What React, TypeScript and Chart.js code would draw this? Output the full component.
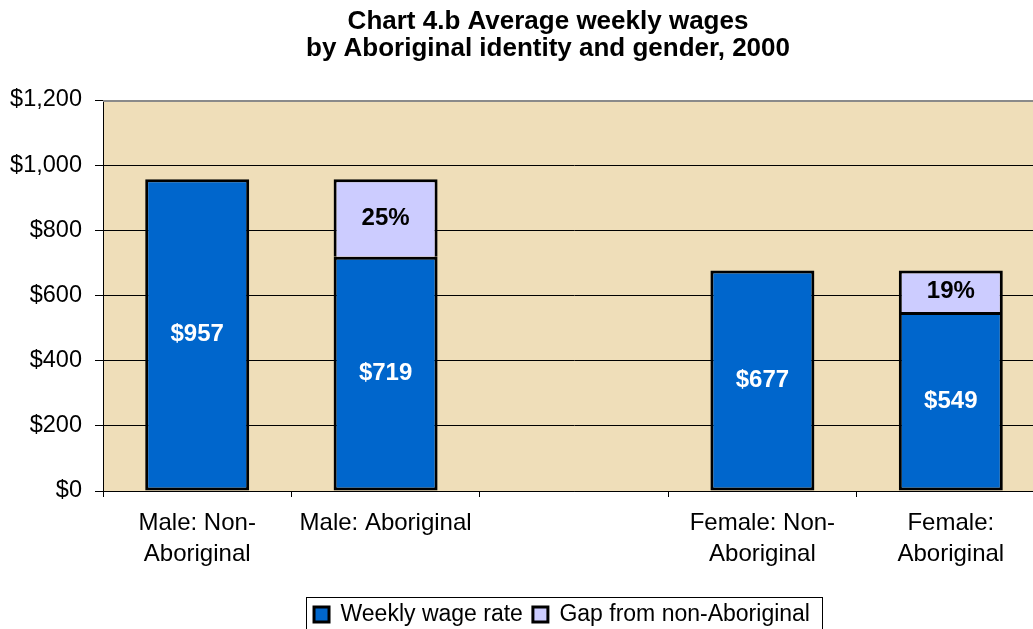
import React, { useEffect, useRef } from 'react';
import { Chart, registerables } from 'chart.js';

Chart.register(...registerables);

const titleLines = ['Chart 4.b Average weekly wages', 'by Aboriginal identity and gender, 2000'];
const categories: (string | string[])[] = [
  ['Male: Non-', 'Aboriginal'],
  'Male: Aboriginal',
  '',
  ['Female: Non-', 'Aboriginal'],
  ['Female:', 'Aboriginal'],
];
const wageValues = [957, 719, null, 677, 549];
const wageLabels = ['$957', '$719', '', '$677', '$549'];
const gapValues = [null, 238, null, null, 128];
const gapLabels = ['', '25%', '', '', '19%'];
const seriesNames = ['Weekly wage rate', 'Gap from non-Aboriginal'];
const yMin = 0;
const yMax = 1200;
const yStep = 200;

const FONT = "'Liberation Sans', Arial, Helvetica, sans-serif";

const plotBg = {
  id: 'plotBg',
  beforeDraw(chart: any) {
    const { ctx, chartArea: a } = chart;
    ctx.save();
    ctx.fillStyle = '#ffffff';
    ctx.fillRect(0, 0, chart.width, chart.height);
    ctx.fillStyle = '#EFDEB9';
    ctx.fillRect(a.left, a.top, a.right - a.left, a.bottom - a.top);
    ctx.restore();
  },
  afterDatasetsDraw(chart: any) {
    const { ctx, chartArea: a } = chart;
    ctx.save();
    ctx.strokeStyle = '#8a8a8a';
    ctx.lineWidth = 2;
    ctx.beginPath();
    ctx.moveTo(a.left, a.top + 1);
    ctx.lineTo(a.right - 1, a.top + 1);
    ctx.lineTo(a.right - 1, a.bottom);
    ctx.stroke();
    ctx.restore();
  },
};

const legendShift = {
  id: 'legendShift',
  afterLayout(chart: any) {
    const lg = chart.legend;
    if (!lg) return;
    lg.left -= 12;
    lg.right -= 12;
  },
};

const barLabels = {
  id: 'barLabels',
  afterDatasetsDraw(chart: any) {
    const { ctx } = chart;
    const sets = [
      { idx: 0, labels: wageLabels, color: '#ffffff' },
      { idx: 1, labels: gapLabels, color: '#000000' },
    ];
    ctx.save();
    ctx.font = `bold 24px ${FONT}`;
    ctx.textAlign = 'center';
    ctx.textBaseline = 'middle';
    for (const s of sets) {
      const meta = chart.getDatasetMeta(s.idx);
      meta.data.forEach((el: any, i: number) => {
        const txt = s.labels[i];
        if (!txt) return;
        const { x, y, base } = el.getProps(['x', 'y', 'base'], true);
        ctx.fillStyle = s.color;
        ctx.fillText(txt, x, (y + base) / 2);
      });
    }
    ctx.restore();
  },
};

const legendBorder = {
  id: 'legendBorder',
  afterDraw(chart: any) {
    const lg = chart.legend;
    if (!lg || !lg.legendHitBoxes || !lg.legendHitBoxes.length) return;
    const hb = lg.legendHitBoxes;
    let l = Infinity;
    let r = -Infinity;
    hb.forEach((h: any) => {
      l = Math.min(l, h.left);
      r = Math.max(r, h.left + h.width);
    });
    const cy = hb[0].top + hb[0].height / 2;
    const { ctx } = chart;
    ctx.save();
    ctx.strokeStyle = '#000000';
    ctx.lineWidth = 1;
    ctx.strokeRect(Math.round(l - 8) + 0.5, Math.round(cy - 18) + 0.5, Math.round(r - l + 20), 80);
    ctx.restore();
  },
};

export default function App() {
  const ref = useRef<HTMLCanvasElement | null>(null);

  useEffect(() => {
    if (!ref.current) return;
    Chart.defaults.font.family = FONT;
    Chart.defaults.color = '#000000';
    const chart = new Chart(ref.current, {
      type: 'bar',
      data: {
        labels: categories,
        datasets: [
          {
            label: seriesNames[0],
            data: wageValues,
            backgroundColor: '#0066CC',
            borderColor: '#000000',
            borderWidth: 3,
            borderSkipped: false,
            categoryPercentage: 1,
            barPercentage: 0.552,
          },
          {
            label: seriesNames[1],
            data: gapValues,
            backgroundColor: '#CCCCFF',
            borderColor: '#000000',
            borderWidth: 3,
            borderSkipped: 'bottom',
            categoryPercentage: 1,
            barPercentage: 0.552,
          },
        ],
      } as any,
      options: {
        responsive: false,
        animation: false,
        devicePixelRatio: 1,
        layout: { padding: { top: 0, left: 0, right: 0, bottom: 24 } },
        plugins: {
          title: {
            display: true,
            text: titleLines,
            color: '#000000',
            font: { size: 26, weight: 'bold', family: FONT, lineHeight: '27px' } as any,
            padding: { top: 8, bottom: 38 },
          },
          legend: {
            display: true,
            position: 'bottom',
            fullSize: false,
            labels: {
              boxWidth: 15,
              boxHeight: 15,
              padding: 10,
              color: '#000000',
              font: { size: 23, family: FONT },
            },
          },
          tooltip: { enabled: false },
        },
        scales: {
          x: {
            stacked: true,
            grid: {
              display: true,
              drawOnChartArea: false,
              drawTicks: true,
              tickLength: 6,
              tickColor: '#000000',
              color: '#000000',
            },
            border: { display: true, color: '#000000', width: 1 },
            ticks: {
              color: '#000000',
              padding: 11,
              maxRotation: 0,
              autoSkip: false,
              font: { size: 24, family: FONT, lineHeight: '31px' } as any,
            },
            afterFit(scale: any) {
              scale.height = 102;
            },
          },
          y: {
            stacked: true,
            min: yMin,
            max: yMax,
            grid: {
              color: (ctx: any) => (ctx.tick && ctx.tick.value === yMax ? 'rgba(0,0,0,0)' : '#000000'),
              tickColor: '#000000',
              lineWidth: 1,
              tickLength: 8,
              drawTicks: true,
            },
            border: { display: true, color: '#000000', width: 1 },
            ticks: {
              stepSize: yStep,
              padding: 13,
              color: '#000000',
              font: { size: 23.5, family: FONT },
              callback: (v: any) => '$' + Number(v).toLocaleString('en-US'),
            },
            afterFit(scale: any) {
              scale.width = 103;
            },
          },
          yPad: {
            type: 'linear',
            position: 'right',
            display: true,
            grid: { display: false, drawTicks: false },
            border: { display: false },
            ticks: { display: false },
            afterFit(scale: any) {
              scale.width = 51;
            },
          },
        },
      } as any,
      plugins: [plotBg, legendShift, barLabels, legendBorder],
    });
    return () => chart.destroy();
  }, []);

  return (
    <div
      style={{
        position: 'absolute',
        left: 0,
        top: 0,
        width: 1033,
        height: 629,
        overflow: 'hidden',
        background: '#ffffff',
      }}
    >
      <canvas ref={ref} width={1096} height={660} />
    </div>
  );
}
